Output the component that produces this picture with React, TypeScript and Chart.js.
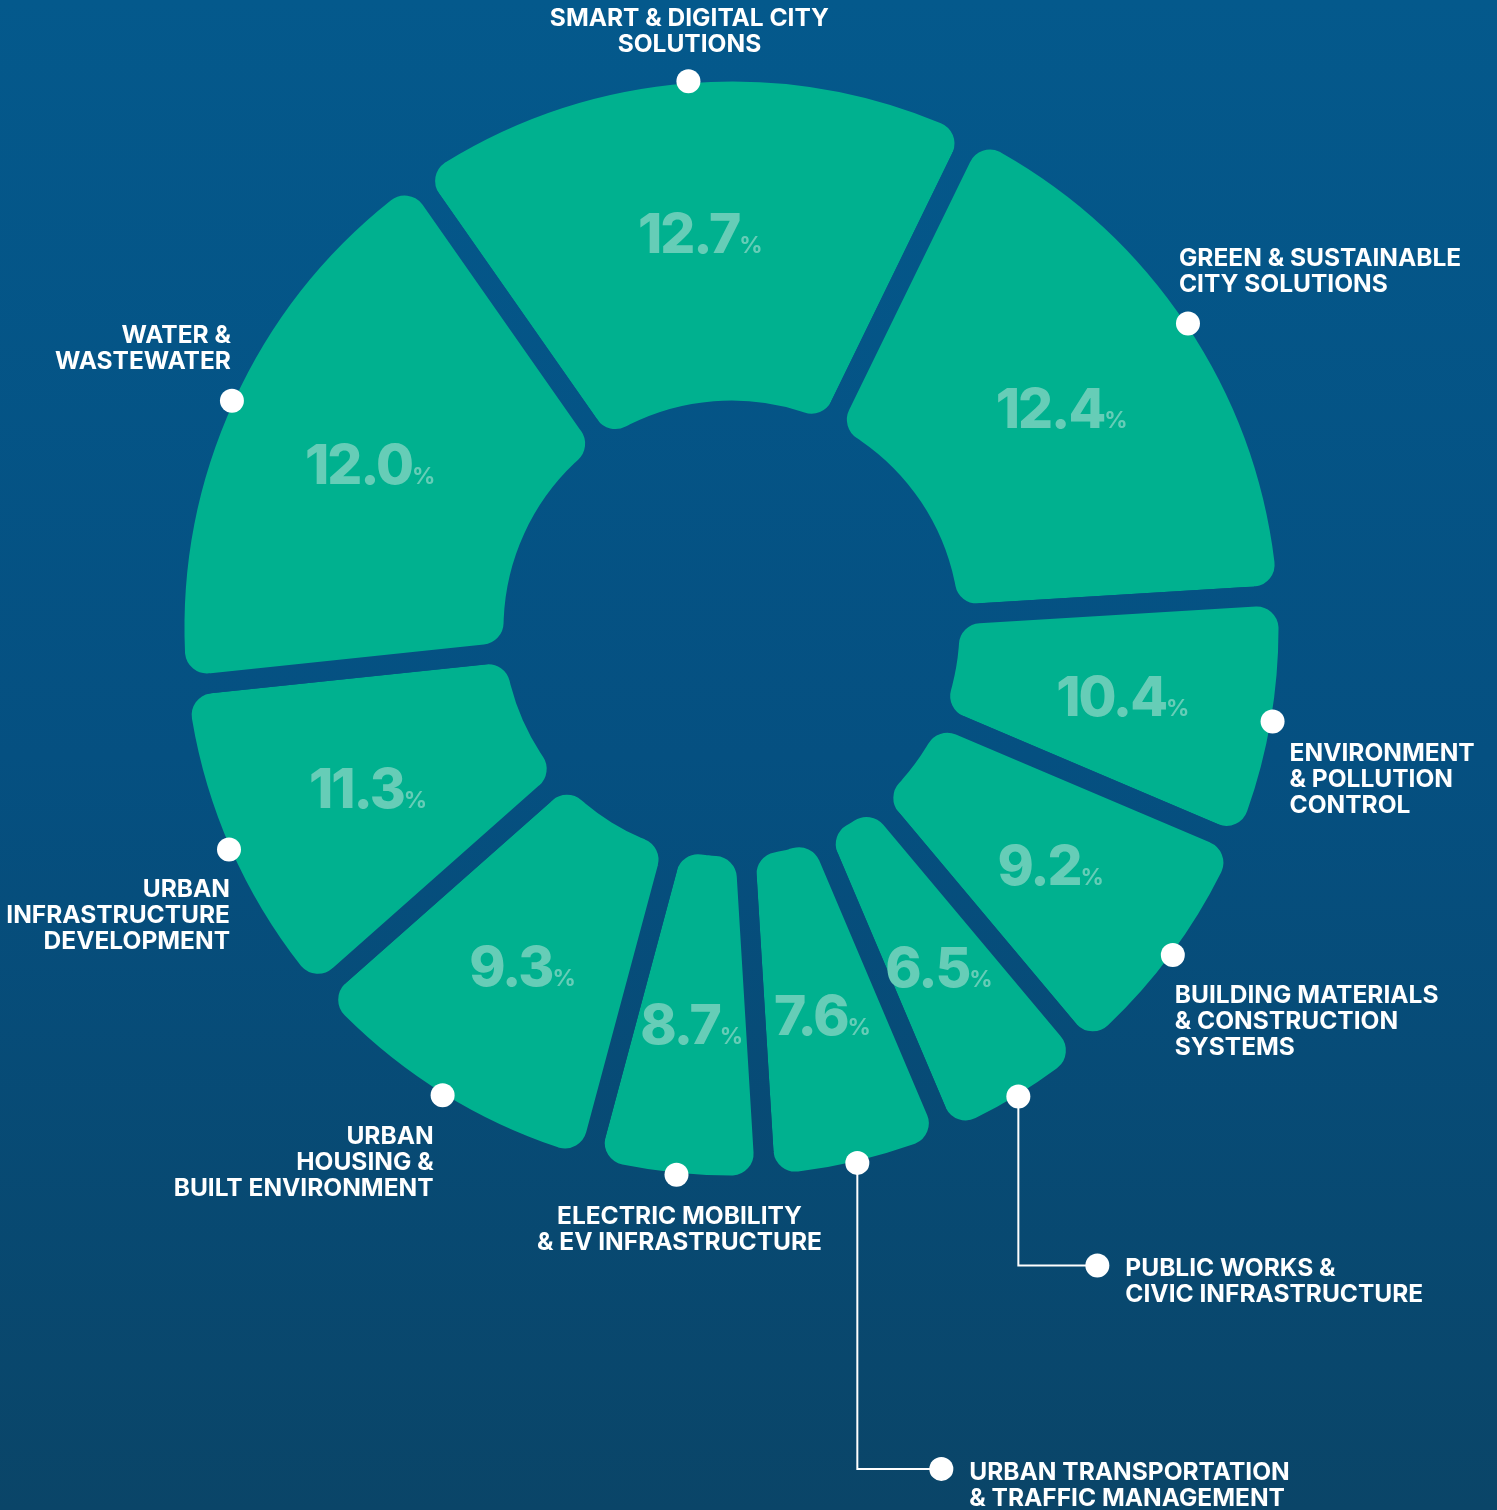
import React, { useEffect, useRef } from 'react';
import { Chart, registerables } from 'chart.js';

Chart.register(...registerables);

// ---- data ----
const categoryLines: string[][] = [
  ['SMART & DIGITAL CITY', 'SOLUTIONS'],
  ['GREEN & SUSTAINABLE', 'CITY SOLUTIONS'],
  ['ENVIRONMENT', '& POLLUTION', 'CONTROL'],
  ['BUILDING MATERIALS', '& CONSTRUCTION', 'SYSTEMS'],
  ['PUBLIC WORKS &', 'CIVIC INFRASTRUCTURE'],
  ['URBAN TRANSPORTATION', '& TRAFFIC MANAGEMENT'],
  ['ELECTRIC MOBILITY', '& EV INFRASTRUCTURE'],
  ['URBAN', 'HOUSING &', 'BUILT ENVIRONMENT'],
  ['URBAN', 'INFRASTRUCTURE', 'DEVELOPMENT'],
  ['WATER &', 'WASTEWATER'],
];
const categories = categoryLines.map((l) => l.join(' '));

// printed shares (%)
const shares = [12.7, 12.4, 10.4, 9.2, 6.5, 7.6, 8.7, 9.3, 11.3, 12.0];

// angular size (degrees) of each segment as drawn in the infographic
const segmentSpans = [61, 60.5, 26.5, 27, 17, 19.5, 18.5, 33.5, 35.5, 61];

// ---- label layout (annotation styling) ----
type Layout = { align: CanvasTextAlign; dx: number; dy: number; drop?: number; run?: number };
const labelLayout: Layout[] = [
  { align: 'center', dx: 1, dy: -64 },
  { align: 'left', dx: -9, dy: -66 },
  { align: 'left', dx: 17, dy: 31 },
  { align: 'left', dx: 2, dy: 39 },
  { align: 'left', dx: 28, dy: 1, drop: 169, run: 79 },
  { align: 'left', dx: 28, dy: 2, drop: 306, run: 84 },
  { align: 'center', dx: 3, dy: 40 },
  { align: 'right', dx: -9, dy: 40 },
  { align: 'right', dx: 1, dy: 38 },
  { align: 'right', dx: -1, dy: -67 },
];

const W = 1497;
const H = 1510;
const GAP = 20;
const FONT = 'Inter, "Noto Sans", sans-serif';

export default function App() {
  const ref = useRef<HTMLCanvasElement>(null);

  useEffect(() => {
    const canvas = ref.current!;
    const c2d = canvas.getContext('2d')!;
    const bg = c2d.createLinearGradient(0, 0, 0, H);
    bg.addColorStop(0, '#04598c');
    bg.addColorStop(0.5, '#055081');
    bg.addColorStop(1, '#0a4568');

    const bgPlugin = {
      id: 'bgFill',
      beforeDraw(chart: any) {
        const ctx = chart.ctx;
        ctx.save();
        ctx.fillStyle = bg;
        ctx.fillRect(0, 0, chart.width, chart.height);
        ctx.restore();
      },
    };

    const labelPlugin = {
      id: 'segLabels',
      afterDatasetsDraw(chart: any) {
        const ctx: any = chart.ctx;
        const meta = chart.getDatasetMeta(0);
        ctx.save();
        meta.data.forEach((arc: any, i: number) => {
          const { x, y, startAngle, endAngle, innerRadius, outerRadius } = arc.getProps(
            ['x', 'y', 'startAngle', 'endAngle', 'innerRadius', 'outerRadius'],
            true
          );
          const mid = (startAngle + endAngle) / 2;
          const inner = innerRadius + GAP / 2;
          const outer = outerRadius - GAP / 2;
          // percentage inside the segment
          const rl = inner + 0.53 * (outer - inner);
          const px = x + Math.cos(mid) * rl;
          const py = y + Math.sin(mid) * rl;
          const num = shares[i].toFixed(1);
          ctx.fillStyle = '#66cdb7';
          ctx.textBaseline = 'alphabetic';
          ctx.textAlign = 'left';
          ctx.letterSpacing = '-2px';
          ctx.font = `800 55px ${FONT}`;
          const wNum = ctx.measureText(num).width;
          ctx.letterSpacing = '0px';
          ctx.font = `700 23px ${FONT}`;
          const wPct = ctx.measureText('%').width;
          const total = wNum + wPct;
          const base = py + 20;
          ctx.letterSpacing = '-2px';
          ctx.font = `800 55px ${FONT}`;
          ctx.fillText(num, px - total / 2, base);
          ctx.letterSpacing = '0px';
          ctx.font = `700 23px ${FONT}`;
          ctx.fillText('%', px - total / 2 + wNum, base);

          // dot on the outer edge
          const rd = outer + 2;
          const dx0 = x + Math.cos(mid) * rd;
          const dy0 = y + Math.sin(mid) * rd;
          ctx.fillStyle = '#ffffff';
          ctx.strokeStyle = '#ffffff';
          const lay = labelLayout[i];
          let ax = dx0;
          let ay = dy0;
          if (lay.drop) {
            const ex = dx0 + (lay.run || 0);
            const ey = dy0 + lay.drop;
            ctx.lineWidth = 2;
            ctx.beginPath();
            ctx.moveTo(dx0, dy0);
            ctx.lineTo(dx0, ey);
            ctx.lineTo(ex, ey);
            ctx.stroke();
            ctx.beginPath();
            ctx.arc(ex, ey, 12, 0, Math.PI * 2);
            ctx.fill();
            ax = ex;
            ay = ey;
          }
          ctx.beginPath();
          ctx.arc(dx0, dy0, 12, 0, Math.PI * 2);
          ctx.fill();

          // category text
          ctx.font = `700 24.5px ${FONT}`;
          ctx.textAlign = lay.align;
          ctx.textBaseline = 'alphabetic';
          categoryLines[i].forEach((line, k) => {
            ctx.fillText(line, ax + lay.dx, ay + lay.dy + k * 26 + 9);
          });
        });
        ctx.restore();
      },
    };

    const chart = new Chart(canvas, {
      type: 'doughnut',
      data: {
        labels: categories,
        datasets: [
          {
            data: segmentSpans,
            backgroundColor: '#00b18f',
            borderColor: bg as any,
            borderWidth: GAP,
            borderRadius: 32,
            hoverOffset: 0,
            clip: false as any,
          } as any,
        ],
      },
      options: {
        responsive: false,
        maintainAspectRatio: false,
        animation: false,
        events: [],
        rotation: -35,
        radius: 557,
        cutout: `${(218 / 557) * 100}%`,
        layout: { padding: { left: 189, right: 223, top: 86, bottom: 339 } },
        plugins: { legend: { display: false }, tooltip: { enabled: false } },
      } as any,
      plugins: [bgPlugin, labelPlugin],
    });
    return () => chart.destroy();
  }, []);

  return (
    <div style={{ position: 'absolute', left: 0, top: 0, width: W, height: H }}>
      <canvas ref={ref} width={W} height={H} style={{ display: 'block', width: W, height: H }} />
    </div>
  );
}
